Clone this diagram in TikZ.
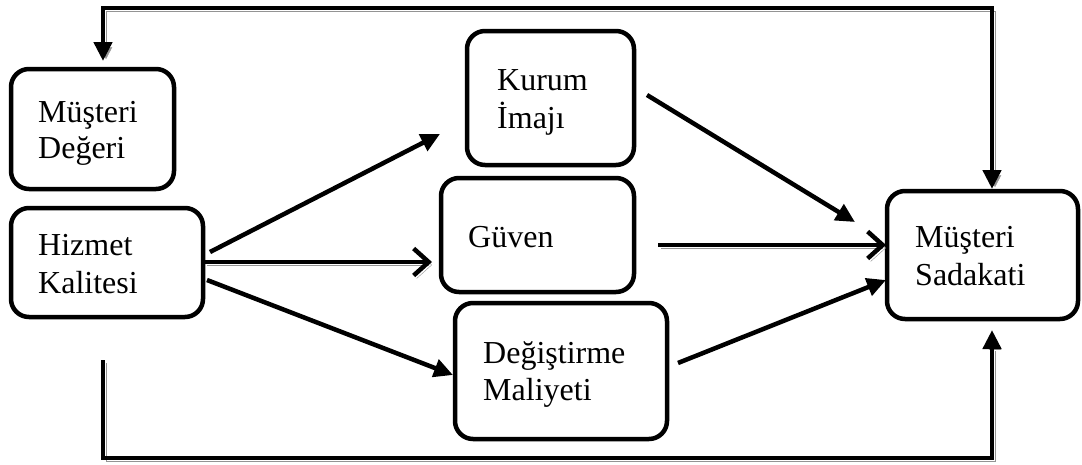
\documentclass[tikz,border=0pt]{standalone}
\usepackage{fontspec}
\setmainfont{Liberation Serif}
\usetikzlibrary{arrows.meta,calc}
\tikzset{
  box/.style={draw, line width=4.5pt, rounded corners=18pt, outer sep=0pt, inner sep=0pt},
  txt/.style={anchor=base west, inner sep=0pt, font=\fontsize{32}{38}\selectfont},
  conn/.style={line width=4.5pt},
  tri/.style={-{Triangle[length=19pt,width=18pt]}},
  barb/.style={-{Straight Barb[length=15pt,width=27pt,line width=4.5pt]}},
  shad/.style={preaction={draw=black!42, transform canvas={shift={(3pt,-3pt)}}}}
}
\begin{document}
\begin{tikzpicture}[x=1pt,y=-1pt]
\useasboundingbox (0,0) rectangle (1082,464);
% boxes
\node[box, minimum width=163pt, minimum height=120pt] (md) at (92.5,129) {};
\node[box, minimum width=192pt, minimum height=109pt] (hk) at (107,262.5) {};
\node[box, minimum width=167pt, minimum height=134pt] (ki) at (550.5,98) {};
\node[box, minimum width=193pt, minimum height=114pt] (gv) at (537.5,235) {};
\node[box, minimum width=212pt, minimum height=136pt] (dm) at (561,371) {};
\node[box, minimum width=191pt, minimum height=128pt] (ms) at (982.5,255) {};
% texts
\node[txt] (md1) at (38,122) {Müşteri};
\node[txt] (md2) at (38,158) {Değeri};
\node[txt] (hk1) at (38,255) {Hizmet};
\node[txt] (hk2) at (38,293) {Kalitesi};
\node[txt] (ki1) at (497,90) {Kurum};
\node[txt] (ki2) at (497,128) {İmajı};
\node[txt] (gv1) at (468,247) {Güven};
\node[txt] (dm1) at (483,363) {Değiştirme};
\node[txt] (dm2) at (483,400) {Maliyeti};
\node[txt] (ms1) at (915,247) {Müşteri};
\node[txt] (ms2) at (915,285) {Sadakati};
% feedback loops
\draw[conn, shad, {Triangle[length=19pt,width=18pt]}-{Triangle[length=19pt,width=18pt]}]
  ($(md.north)+(10.5,-8)$) -- ++(0,-53) -| ($(ms.north)+(9.5,-2)$);
\draw[conn, shad, tri]
  ($(hk.south)+(-4,43)$) -- ++(0,98) -| ($(ms.south)+(9.5,11)$);
% arrows
\draw[conn, tri] ($(hk.east)+(7,-10.5)$) -- ($(ki.west)+(-27,36)$);
\draw[conn, shad, barb] ($(hk.east)+(1,-0.5)$) -- ($(gv.west)+(-9,27)$);
\draw[conn, tri] ($(hk.east)+(4,17.5)$) -- ($(dm.west)+(-2,4)$);
\draw[conn, tri] ($(ki.east)+(13,-3)$) -- ($(ms.west)+(-32,-33)$);
\draw[conn, shad, barb] ($(gv.east)+(24,10)$) -- ($(ms.west)+(-1,-10)$);
\draw[conn, tri] ($(dm.east)+(11,-8)$) -- ($(ms.west)+(-1,25)$);
\end{tikzpicture}
\end{document}
